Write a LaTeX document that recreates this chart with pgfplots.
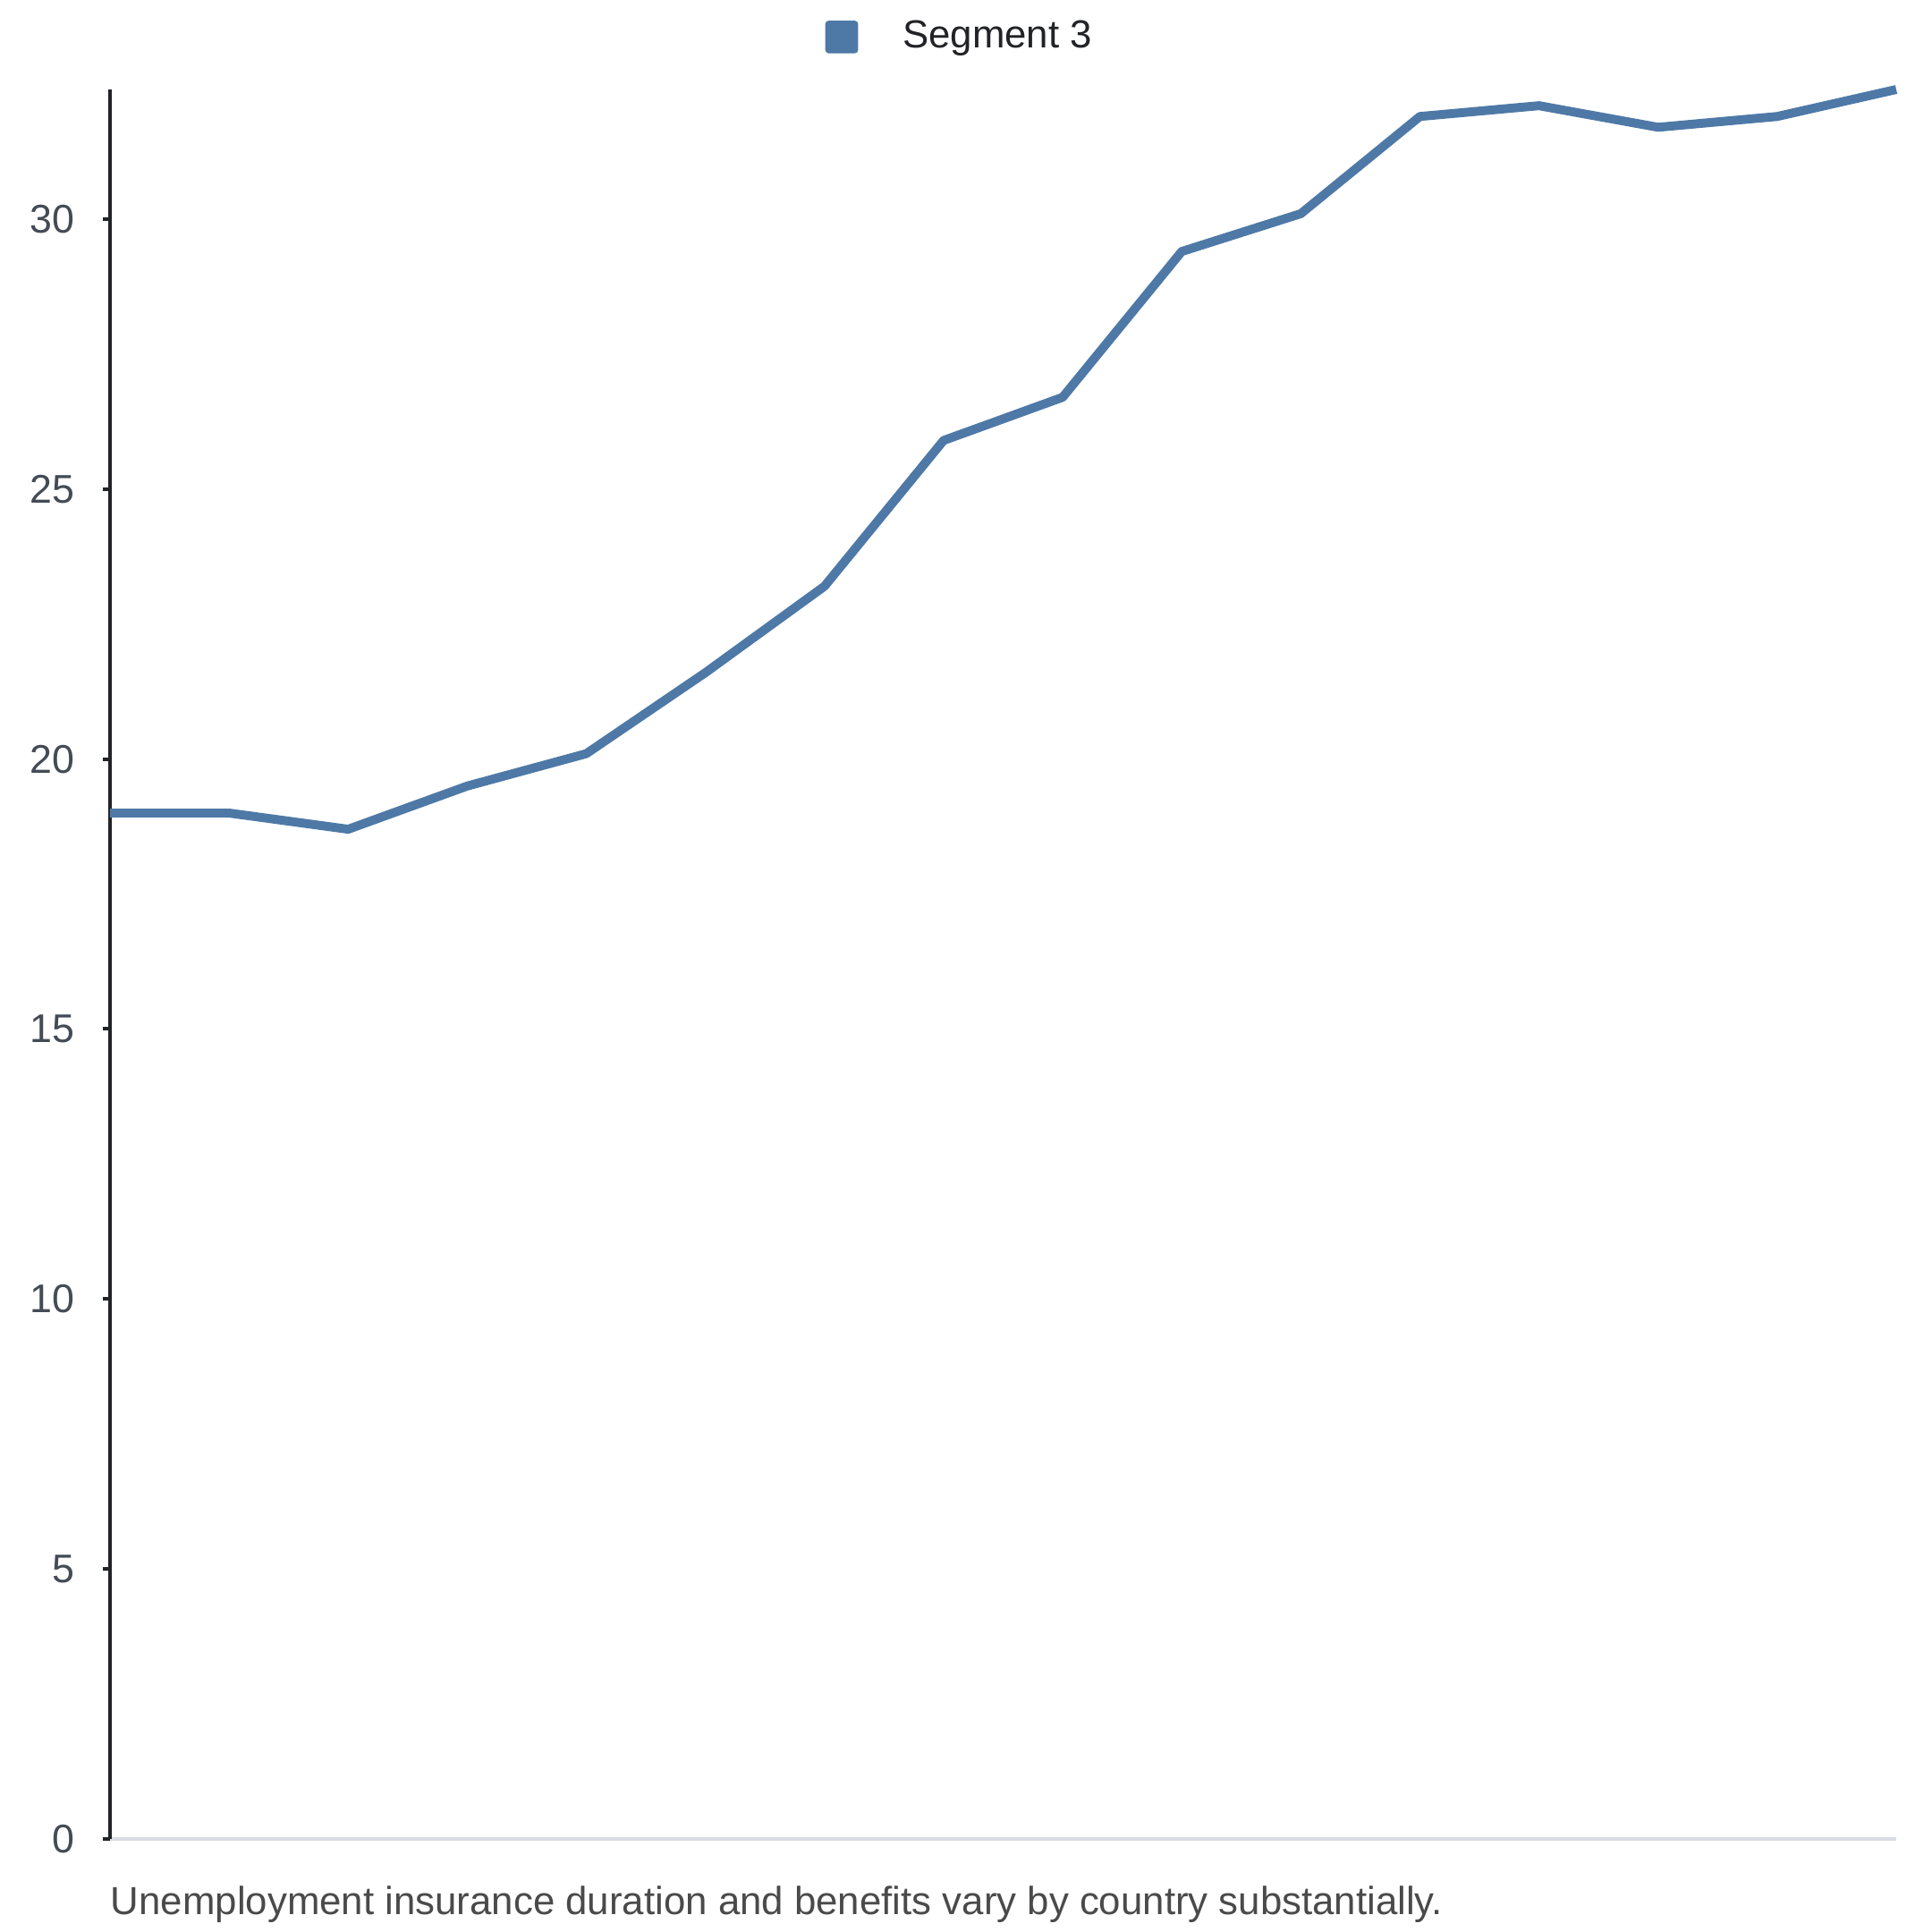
\documentclass[border=0pt]{standalone}
\usepackage{fontspec}
\setmainfont{Liberation Sans}
\usepackage{pgfplots}
\pgfplotsset{compat=1.18}
\definecolor{lineblue}{HTML}{4E79A7}
\definecolor{ticktext}{HTML}{444B55}
\definecolor{captext}{HTML}{4A4A4A}
\definecolor{axisdark}{HTML}{222326}
\definecolor{axislight}{HTML}{DADDE1}
\begin{document}
\begin{tikzpicture}
\path[use as bounding box] (0,0) rectangle (15.6cm,15.6cm);
\begin{axis}[
  at={(0.888cm,0.751cm)}, anchor=south west,
  scale only axis,
  width=14.423cm, height=14.126cm,
  xmin=0, xmax=15, ymin=0, ymax=32.4,
  axis x line*=bottom, axis y line*=left,
  x axis line style={axislight, line width=0.82pt},
  y axis line style={axisdark, line width=0.82pt},
  clip=false,
  ytick={0,5,10,15,20,25,30},
  xtick=\empty,
  tick align=outside,
  major tick length=0.058cm,
  ytick style={axisdark, line width=0.82pt},
  /pgf/number format/assume math mode=true,
  yticklabel style={font=\fontsize{9.2}{11}\selectfont, text=ticktext, inner sep=0pt, xshift=-0.22cm},
  legend style={at={(0.400,1.030)}, anchor=west, draw=none, fill=none,
    font=\fontsize{9}{11}\selectfont, text=axisdark, inner sep=0pt},
  legend cell align=left,
]
\addplot[lineblue, line width=2.05pt, line join=round, forget plot] coordinates {
(0,19.0) (1,19.0) (2,18.7) (3,19.5) (4,20.1) (5,21.6) (6,23.2) (7,25.9)
(8,26.7) (9,29.4) (10,30.1) (11,31.9) (12,32.1) (13,31.7) (14,31.9) (15,32.4)
};
\addlegendimage{legend image code/.code={\fill[lineblue, rounded corners=0.6pt] (0cm,-0.125cm) rectangle (0.25cm,0.125cm);}}
\addlegendentry{\hspace{0.29cm}Segment 3}
\node[anchor=west, inner sep=0pt, text=captext, font=\fontsize{9}{11}\selectfont] at ([yshift=-0.53cm]axis cs:0,0) {Unemployment insurance duration and benefits vary by country substantially.};
\end{axis}
\end{tikzpicture}
\end{document}
